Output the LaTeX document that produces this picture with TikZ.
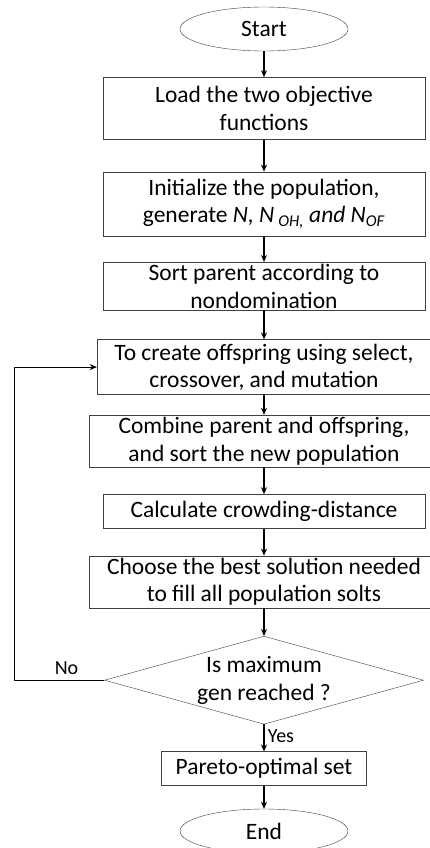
\documentclass[tikz,border=0pt]{standalone}
\usepackage{fontspec}
\setmainfont{Carlito}
\usetikzlibrary{shapes,arrows.meta,positioning}

\begin{document}
\begin{tikzpicture}[x=1pt, y=1pt, font=\fontsize{23.5}{27.5}\selectfont,
        block/.style={rectangle, draw=black!75, align=center, minimum width=322pt, inner sep=0pt},
        terminal/.style={ellipse, draw=black!75, minimum width=168pt, minimum height=44pt, inner sep=0pt},
        decision/.style={diamond, draw=black!75, aspect=3.6, minimum width=319pt, minimum height=88pt, inner sep=0pt, align=center},
        tag/.style={font=\fontsize{20}{24}\selectfont},
        link/.style={-{Stealth[length=7pt,width=6pt]}, line width=1.2pt}]

    \useasboundingbox[fill=white] (0,0) rectangle (429,-848);

    \node[terminal] (start) at (264,-29) {Start};
    \node[block, minimum height=62pt, below=26pt of start] (load) {Load the two objective\\functions};
    \node[block, minimum height=64pt, below=32pt of load] (init) {Initialize the population,\\generate \textit{N, N}\,\textsubscript{\textit{OH,}} \textit{and N}\textsubscript{\textit{OF}}};
    \node[block, minimum height=48pt, below=26pt of init] (sort) {Sort parent according to\\nondomination};
    \node[block, minimum width=334pt, minimum height=55pt, below=29pt of sort] (create) {To create offspring using select,\\crossover, and mutation};
    \node[block, minimum width=350pt, minimum height=52pt, below=20pt of create] (combine) {Combine parent and offspring,\\and sort the new population};
    \node[block, minimum height=34pt, below=27pt of combine] (crowd) {Calculate crowding-distance};
    \node[block, minimum width=350pt, minimum height=52pt, below=27pt of crowd] (choose) {Choose the best solution needed\\to fill all population solts};
    \node[decision, below=28pt of choose] (check) {Is maximum\\gen reached ?};
    \node[block, minimum width=205pt, minimum height=34pt, below=27pt of check] (pareto) {Pareto-optimal set};
    \node[terminal, below=23pt of pareto] (stop) {End};

    \draw[link] (start) -- (load);
    \draw[link] (load) -- (init);
    \draw[link] (init) -- (sort);
    \draw[link] (sort) -- (create);
    \draw[link] (create) -- (combine);
    \draw[link] (combine) -- (crowd);
    \draw[link] (crowd) -- (choose);
    \draw[link] (choose) -- (check);
    \draw[link] (check) -- node[tag, right, pos=0.45] {Yes} (pareto);
    \draw[link] (pareto) -- (stop);
    \draw[link] (check.west) -- node[tag, above=2pt, pos=0.42] {No} ++(-90,0) |- (create.west);

\end{tikzpicture}
\end{document}
